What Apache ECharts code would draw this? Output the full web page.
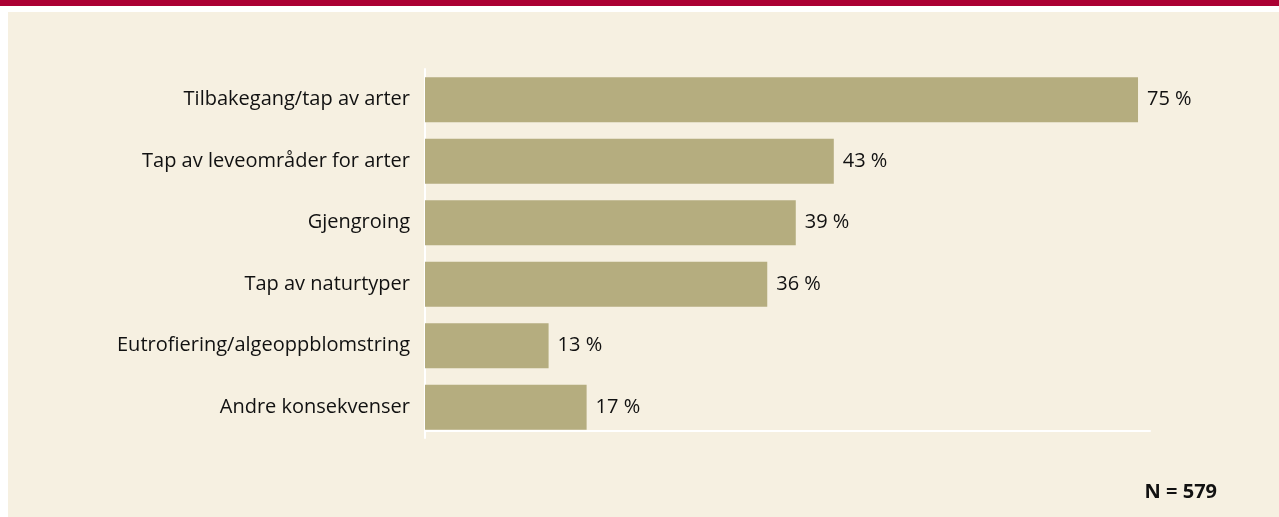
<!DOCTYPE html>
<html>
<head>
<meta charset="utf-8">
<script src="https://cdn.jsdelivr.net/npm/echarts@6/dist/echarts.min.js"></script>
<style>
  html, body { margin: 0; padding: 0; background: #ffffff; }
  .top-band { position: absolute; left: 0; top: 0; width: 1279px; height: 6px; background: #ab0033; }
  .panel { position: absolute; left: 8px; top: 12px; width: 1271px; height: 505px; background: #f6f0e1; }
  #chart { width: 100%; height: 100%; }
</style>
</head>
<body>
<div class="top-band"></div>
<div class="panel"><div id="chart"></div></div>
<script>
// categories top to bottom
const categories = [
  'Tilbakegang/tap av arter',
  'Tap av leveområder for arter',
  'Gjengroing',
  'Tap av naturtyper',
  'Eutrofiering/algeoppblomstring',
  'Andre konsekvenser'
];
const shares = [75, 43, 39, 36, 13, 17];
const sampleNote = 'N = 579';

const fontFamily = '"Open Sans", "Noto Sans", sans-serif';
const chart = echarts.init(document.getElementById('chart'));

chart.setOption({
  backgroundColor: 'transparent',
  animation: false,
  title: {
    text: sampleNote,
    right: 57,
    top: 465,
    textStyle: { fontFamily, fontSize: 20, fontWeight: 'bold', color: '#111111' }
  },
  grid: {
    left: 417,
    top: 57,
    width: 725,
    height: 369
  },
  xAxis: {
    type: 'value',
    min: 0,
    max: 76.26,
    offset: -7,
    axisLine: { show: true, lineStyle: { color: '#ffffff', width: 2 } },
    axisTick: { show: false },
    axisLabel: { show: false },
    splitLine: { show: false }
  },
  yAxis: {
    type: 'category',
    inverse: true,
    data: categories,
    axisLine: { show: true, lineStyle: { color: '#ffffff', width: 2 } },
    axisTick: { show: false },
    axisLabel: { margin: 15, fontFamily, fontSize: 20, color: '#111111' }
  },
  series: [{
    type: 'bar',
    data: shares,
    barCategoryGap: '27%',
    itemStyle: { color: '#b5ad7f' },
    label: {
      show: true,
      position: 'right',
      distance: 9,
      formatter: '{c} %',
      fontFamily,
      fontSize: 20,
      color: '#111111'
    }
  }]
});
</script>
</body>
</html>
